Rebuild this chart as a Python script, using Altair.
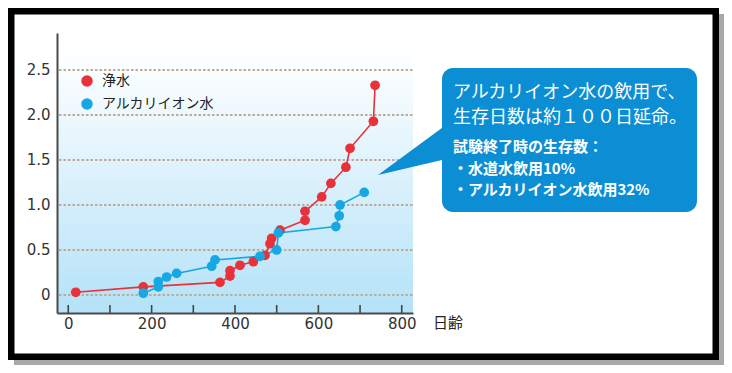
import altair as alt
import pandas as pd

# ---- data ----
days_pure = [18, 180, 364, 388, 388, 412, 444, 472, 484, 488, 508, 568, 568, 608, 630, 666, 676, 732, 736]
surv_pure = [0.03, 0.09, 0.14, 0.21, 0.27, 0.33, 0.37, 0.44, 0.57, 0.63, 0.72, 0.83, 0.93, 1.09, 1.24, 1.42, 1.63, 1.93, 2.33]
days_alk = [180, 216, 216, 236, 260, 344, 352, 460, 500, 504, 642, 650, 652, 710]
surv_alk = [0.02, 0.09, 0.15, 0.20, 0.24, 0.32, 0.39, 0.43, 0.50, 0.69, 0.76, 0.88, 1.00, 1.14]
series_names = ["浄水", "アルカリイオン水"]
series_colors = ["#e8323a", "#17a8e3"]
grid_values = [0, 0.5, 1.0, 1.5, 2.0, 2.5]
x_tick_values = [0, 100, 200, 300, 400, 500, 600, 700, 800]
x_label_values = [0, 200, 400, 600, 800]
x_title = "日齢"
callout_head = ["アルカリイオン水の飲用で、", "生存日数は約１００日延命。"]
callout_body = ["試験終了時の生存数：", "・水道水飲用10%", "・アルカリイオン水飲用32%"]

JP = "Noto Sans CJK JP"
NUM = "DejaVu Sans"
W, H = 356, 280

rows = []
for i, (d, s) in enumerate(zip(days_pure, surv_pure)):
    rows.append({"day": d, "surv": s, "series": series_names[0], "idx": i})
for i, (d, s) in enumerate(zip(days_alk, surv_alk)):
    rows.append({"day": d, "surv": s, "series": series_names[1], "idx": i})
df = pd.DataFrame(rows)
grid_df = pd.DataFrame({"g": grid_values})
tick_df = pd.DataFrame({"t": x_tick_values})
one = alt.Data(values=[{}])

xs = alt.Scale(domain=[-27, 827], nice=False, zero=False)
ys = alt.Scale(domain=[-0.2, 2.911], nice=False, zero=False)
cs = alt.Scale(domain=series_names, range=series_colors)

x_axis = alt.Axis(
    values=x_label_values, tickSize=0, labelPadding=3, labelFont=NUM, labelFontSize=15,
    labelColor="#333333", domainColor="#4a4a4a", domainWidth=2, grid=False, title=None,
    zindex=1, labelFlush=False)
y_axis = alt.Axis(
    values=grid_values, tickSize=0, labelPadding=7, labelFont=NUM, labelFontSize=15,
    labelColor="#333333", domainColor="#4a4a4a", domainWidth=2, grid=False, title=None,
    zindex=1, labelFlush=False,
    labelExpr="datum.value == 0 ? '0' : format(datum.value, '.1f')")
legend = alt.Legend(
    orient="none", legendX=23, legendY=41, title=None, symbolType="circle",
    symbolSize=100, labelFont=JP, labelFontSize=14, labelColor="#222222",
    rowPadding=7, labelOffset=8, zindex=1)

# decorations: frame and shadow
shadow_r = alt.Chart(one).mark_rect(color="#a8a8a8").encode(
    x=alt.value(662), x2=alt.value(667), y=alt.value(-19), y2=alt.value(332))
shadow_b = alt.Chart(one).mark_rect(color="#a8a8a8").encode(
    x=alt.value(-43), x2=alt.value(667), y=alt.value(327), y2=alt.value(332))
frame = alt.Chart(one).mark_rect(fillOpacity=0, stroke="black", strokeWidth=6.5).encode(
    x=alt.value(-45.75), x2=alt.value(658.75), y=alt.value(-21.75), y2=alt.value(323.75))

bg = alt.Chart(one).mark_rect(
    color=alt.LinearGradient(
        gradient="linear",
        stops=[alt.GradientStop(offset=0, color="#ffffff"),
               alt.GradientStop(offset=0.12, color="#fbfeff"),
               alt.GradientStop(offset=1, color="#b4e2f8")],
        x1=0, x2=0, y1=0, y2=1)
).encode(x=alt.value(0), x2=alt.value(W), y=alt.value(0), y2=alt.value(H))

grid = alt.Chart(grid_df).mark_rule(color="#bfaa98", strokeWidth=2, strokeDash=[2.5, 2]).encode(
    y=alt.Y("g:Q", scale=ys, axis=y_axis), x=alt.value(2), x2=alt.value(W))

ticks = alt.Chart(tick_df).mark_rule(color="#444444", strokeWidth=1.6).encode(
    x=alt.X("t:Q", scale=xs, axis=x_axis), y=alt.value(H - 8), y2=alt.value(H))

lines = alt.Chart(df).mark_line(strokeWidth=1.6).encode(
    x=alt.X("day:Q", scale=xs, axis=x_axis),
    y=alt.Y("surv:Q", scale=ys, axis=y_axis),
    color=alt.Color("series:N", scale=cs, legend=legend),
    detail="series:N",
    order=alt.Order("idx:Q"),
)

points = alt.Chart(df).mark_point(filled=True, size=95, opacity=1).encode(
    x=alt.X("day:Q", scale=xs, axis=x_axis),
    y=alt.Y("surv:Q", scale=ys, axis=y_axis),
    color=alt.Color("series:N", scale=cs, legend=legend),
)

xtitle = alt.Chart(one).mark_text(text=x_title, font=JP, fontSize=15, color="#222222",
                                  align="center", baseline="middle").encode(
    x=alt.value(391), y=alt.value(290))

pointer = alt.Chart(one).mark_point(
    shape="M -1 0.734 L 1.4 -1.028 L 1.4 0.172 Z", filled=True, size=4096,
    color="#0b8ed3", opacity=1).encode(x=alt.value(353), y=alt.value(118.5))

box = alt.Chart(one).mark_rect(color="#0b8ed3", cornerRadius=11).encode(
    x=alt.value(385), x2=alt.value(640), y=alt.value(35), y2=alt.value(179))

head = alt.Chart(one).mark_text(text=callout_head, font=JP, fontSize=18, lineHeight=25,
                                color="white", align="left", baseline="middle").encode(
    x=alt.value(396), y=alt.value(60))
body = alt.Chart(one).mark_text(text=callout_body, font=JP, fontSize=15, lineHeight=21.5,
                                fontWeight="bold", color="white", align="left",
                                baseline="middle").encode(
    x=alt.value(396), y=alt.value(114))

chart = alt.layer(
    shadow_r, shadow_b, frame, bg, grid, ticks, lines, points, xtitle, pointer, box, head, body
).properties(
    width=W, height=H,
    autosize=alt.AutoSizeParams(type="none"),
    padding={"left": 49, "top": 25, "right": 311, "bottom": 52},
    background="white",
).configure_view(stroke=None)

chart.save("out.html", embed_options={"renderer": "svg", "actions": False})
